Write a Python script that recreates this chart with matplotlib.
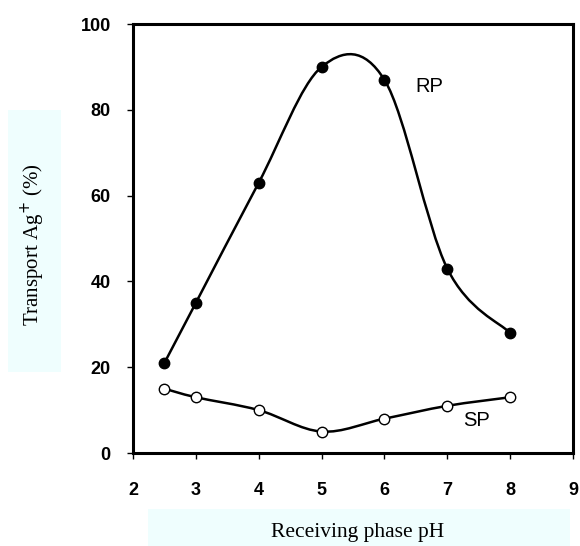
import numpy as np
import matplotlib.pyplot as plt
from matplotlib.path import Path
from matplotlib.patches import PathPatch, Rectangle

ph = [2.5, 3, 4, 5, 6, 7, 8]
rp = [21, 35, 63, 90, 87, 43, 28]
sp = [15, 13, 10, 5, 8, 11, 13]


def smooth_path(x, y):
    # cubic bezier through the points, catmull-rom style control points
    pts = np.column_stack((x, y)).astype(float)
    n = len(pts)
    verts = [pts[0]]
    codes = [Path.MOVETO]
    for i in range(n - 1):
        p0 = pts[i - 1] if i > 0 else pts[i]
        p1 = pts[i]
        p2 = pts[i + 1]
        p3 = pts[i + 2] if i + 2 < n else pts[i + 1]
        c1 = p1 + (p2 - p0) / 6.0
        c2 = p2 - (p3 - p1) / 6.0
        verts += [c1, c2, p2]
        codes += [Path.CURVE4] * 3
    return Path(verts, codes)


fig = plt.figure(figsize=(5.8, 5.46), dpi=100)
ax = fig.add_axes([0.2293, 0.1703, 0.7586, 0.7857])

for ys in (rp, sp):
    ax.add_patch(PathPatch(smooth_path(ph, ys), facecolor='none',
                           edgecolor='black', linewidth=1.8, zorder=2))

ax.plot(ph, rp, linestyle='none', marker='o', markersize=7.5,
        markerfacecolor='black', markeredgecolor='black', zorder=3)
ax.plot(ph, sp, linestyle='none', marker='o', markersize=7.5,
        markerfacecolor='white', markeredgecolor='black',
        markeredgewidth=1.0, zorder=3)

ax.text(6.72, 85.5, 'RP', fontsize=14.5, family='Liberation Sans',
        ha='center', va='center')
ax.text(7.47, 7.5, 'SP', fontsize=14.5, family='Liberation Sans',
        ha='center', va='center')

ax.set_xlim(2, 9)
ax.set_ylim(0, 100)
ax.set_xticks(range(2, 10))
ax.set_yticks(range(0, 101, 20))
for sp_name in ax.spines:
    ax.spines[sp_name].set_linewidth(2.2)
ax.tick_params(axis='both', direction='out', length=4, width=1,
               labelsize=13)
ax.tick_params(axis='x', pad=17)
ax.tick_params(axis='y', pad=12)
for lab in ax.get_xticklabels() + ax.get_yticklabels():
    lab.set_fontfamily('Liberation Sans')
    lab.set_fontweight('bold')

# pale boxes behind the axis titles
fig.patches.append(Rectangle((8 / 580, 1 - 372 / 546), 53 / 580, 262 / 546,
                             transform=fig.transFigure, facecolor='#effefe',
                             edgecolor='none', zorder=0))
fig.patches.append(Rectangle((148 / 580, 0), 422 / 580, 37 / 546,
                             transform=fig.transFigure, facecolor='#effefe',
                             edgecolor='none', zorder=0))

fig.text(33 / 580, 1 - 245 / 546, 'Transport Ag$^{+}$ (%)', rotation=90,
         ha='center', va='center', fontsize=15, family='Liberation Serif')
fig.text(358 / 580, 1 - 532 / 546, 'Receiving phase pH',
         ha='center', va='center', fontsize=15.5, family='Liberation Serif')

fig.savefig('out.png', dpi=100)
